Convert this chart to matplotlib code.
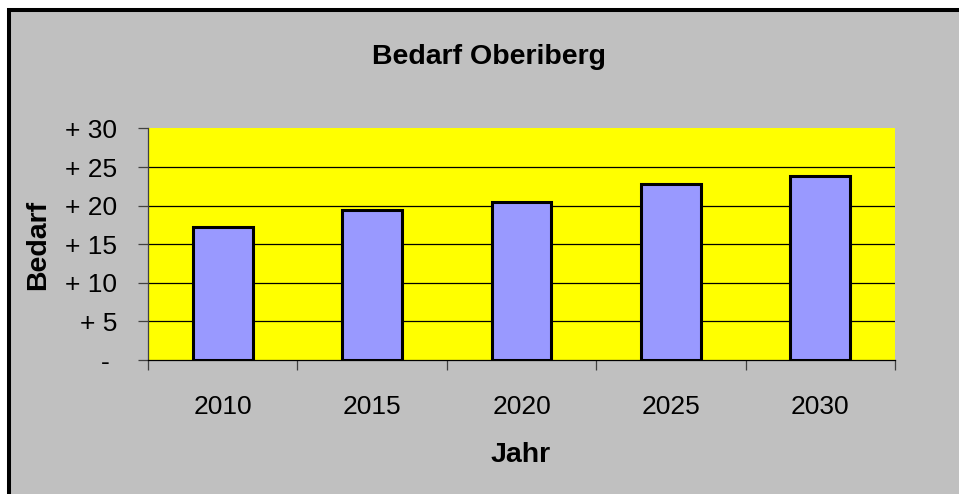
import matplotlib
matplotlib.use("Agg")
import matplotlib.pyplot as plt
from matplotlib.patches import Rectangle
import numpy as np

plt.rcParams['font.family'] = ['Liberation Sans', 'DejaVu Sans']

years = ["2010", "2015", "2020", "2025", "2030"]
bedarf = [17.3, 19.5, 20.5, 22.85, 23.85]
ytick_values = [0, 5, 10, 15, 20, 25, 30]
ytick_labels = ["- ", "+ 5", "+ 10", "+ 15", "+ 20", "+ 25", "+ 30"]

W, H = 959, 494
fig = plt.figure(figsize=(W / 100, H / 100), dpi=100, facecolor="white")

# outer chart frame (cropped at right and bottom)
fig.patches.append(Rectangle((9 / W, -0.1), 1.2, 1 - 10 / H + 0.1,
                             transform=fig.transFigure, facecolor="#C0C0C0",
                             edgecolor="black", linewidth=2.9, zorder=-5))

ax = fig.add_axes([148 / W, (H - 360) / H, (895 - 148) / W, (360 - 128.5) / H])
ax.set_zorder(2)
ax.set_facecolor("#FFFF00")

x = np.arange(len(years))
ax.bar(x, bedarf, width=0.4, color="#9999FF", edgecolor="black", linewidth=2.2, zorder=3)

ax.set_xlim(-0.5, len(years) - 0.5)
ax.set_ylim(0, 30)

for v in ytick_values[1:-1]:
    ax.axhline(v, color="black", linewidth=0.9, zorder=1)

ax.set_yticks(ytick_values)
ax.set_yticklabels(ytick_labels, fontsize=19)
ax.tick_params(axis="y", direction="out", length=7, width=0.9, color="#404040", pad=15)

ax.set_xticks(np.arange(len(years) + 1) - 0.5)
ax.set_xticklabels([])
ax.set_xticks(x, minor=True)
ax.set_xticklabels(years, minor=True, fontsize=19)
ax.tick_params(axis="x", which="major", direction="out", length=7, width=0.9, color="#404040")
ax.tick_params(axis="x", which="minor", length=0, pad=25)

for s in ["top", "right"]:
    ax.spines[s].set_visible(False)
ax.spines["left"].set_color("#404040")
ax.spines["bottom"].set_color("black")
ax.spines["left"].set_linewidth(0.9)
ax.spines["bottom"].set_linewidth(0.9)

fig.text(489.5 / W, 1 - 57 / H, "Bedarf Oberiberg", fontsize=20.5, fontweight="bold",
         ha="center", va="center")
fig.text(521 / W, 1 - 455 / H, "Jahr", fontsize=20.5, fontweight="bold",
         ha="center", va="center")
fig.text(38 / W, 1 - 245 / H, "Bedarf", fontsize=20.5, fontweight="bold",
         ha="center", va="center", rotation=90)

fig.savefig("out.png", dpi=100, facecolor="white")
